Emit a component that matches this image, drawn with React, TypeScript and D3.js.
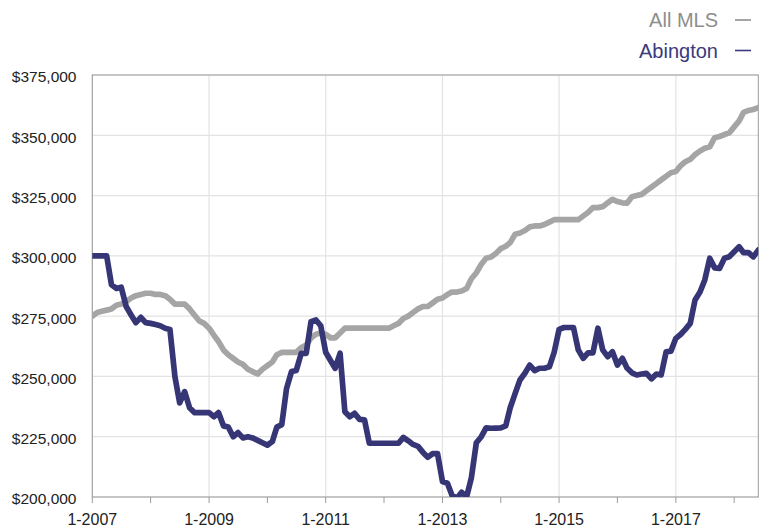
import React from "react";
import * as d3 from "d3";

const START_YEAR = 2007;
const allMls: number[] = [
  275, 276.5, 277, 277.5, 278, 279.5, 280, 281, 282.5, 283.5, 284, 284.5,
  284.5, 284, 284, 283.5, 282, 280, 280, 280, 278, 275.5, 273, 272,
  270, 267, 264.5, 261, 259, 257.5, 256, 255, 253, 252, 251, 253,
  254.5, 256, 259, 260, 260, 260, 260, 262, 263, 266, 267.5, 268,
  267.5, 266, 266, 268, 270, 270, 270, 270, 270, 270, 270, 270,
  270, 270, 271, 272, 274, 275, 276.5, 278, 279, 279, 280.5, 282,
  282.5, 284, 285, 285, 285.4, 286.5, 290.5, 293, 296.5, 299, 299.5, 301,
  303, 304, 305.5, 309, 309.5, 310.5, 312, 312.4, 312.4, 313, 314, 315,
  315, 315, 315, 315, 315, 316.5, 318, 320, 320, 320.4, 322, 323.4,
  322.5, 322, 321.8, 324.5, 325, 325.5, 327, 328.5, 330, 331.5, 333, 334.5,
  335, 337.5, 339, 340, 342, 343.5, 344.6, 345.2, 349, 349.5, 350.3, 351,
  353.5, 356, 359.5, 360.3, 360.7, 361.5,
];
const abington: number[] = [
  300, 300, 300, 300, 288, 286.5, 287, 279, 275.5, 272.3, 274.5, 272.3,
  272, 271.5, 271, 270, 269.5, 250, 239, 243.7, 237, 235, 235, 235,
  235, 233.3, 235, 229.5, 229, 225, 226.7, 224.5, 225, 224.5, 223.5, 222.5,
  221.5, 223, 229, 230, 245, 252, 252.5, 259.6, 259.6, 272.7, 273.4, 271,
  260, 256.5, 253.4, 259.6, 235.4, 233.3, 234.7, 232.2, 232, 222.3, 222.3, 222.3,
  222.3, 222.3, 222.3, 222.3, 224.7, 223.3, 221.8, 221, 218.5, 216.5, 218, 218,
  206.4, 205.7, 200.8, 199.5, 202, 200, 208, 222.5, 225, 228.7, 228.5, 228.6,
  228.7, 229.5, 237, 243, 248.5, 251.3, 254.7, 252.4, 253.4, 253.4, 254, 260,
  269.5, 270.3, 270.3, 270.3, 261, 257.5, 259.8, 259.8, 270, 261, 258.2, 260.2,
  254.7, 257.5, 253.5, 251.5, 250.6, 251, 251.3, 249, 251, 250.6, 260.2, 260.5,
  265.8, 267.5, 269.5, 272, 281.7, 285, 290, 299, 295, 294.8, 299, 299.6,
  301.7, 303.8, 301.3, 301.3, 299.6, 302.4,
];
const yTicks: number[] = [200000, 225000, 250000, 275000, 300000, 325000, 350000, 375000];
const labelYears: number[] = [2007, 2009, 2011, 2013, 2015, 2017];
const legendItems = [
  { name: "All MLS", color: "#a5a5a5", text: "#8e8e8e" },
  { name: "Abington", color: "#363677", text: "#3a3a7c" },
];

const W = 770;
const H = 527;
const L = 92.3;
const R = 758.3;
const T = 75;
const B = 497;

const dateOf = (i: number) => new Date(START_YEAR, i, 1);

export default function App() {
  const x = d3
    .scaleTime()
    .domain([dateOf(0), dateOf(allMls.length - 1)])
    .range([L, R]);
  const y = d3.scaleLinear().domain([200000, 375000]).range([B, T]);
  const line = d3
    .line<number>()
    .x((_, i) => x(dateOf(i)))
    .y((d) => y(d * 1000))
    .curve(d3.curveLinear);
  const fmt = d3.format("$,");
  const yearTicks = d3.range(2007, 2019).map((yr) => new Date(yr, 0, 1));
  const font = "'Liberation Sans', Arial, Helvetica, sans-serif";

  return (
    <svg
      width={W}
      height={H}
      style={{ position: "absolute", left: 0, top: 0, background: "#fff" }}
      fontFamily={font}
    >
      <defs>
        <clipPath id="plotclip">
          <rect x={L} y={T} width={R - L} height={B - T} />
        </clipPath>
      </defs>
      {yTicks.map((t) => (
        <line key={"gy" + t} x1={L} x2={R} y1={y(t)} y2={y(t)} stroke="#e3e3e3" strokeWidth={1.2} />
      ))}
      {labelYears.map((yr) => (
        <line
          key={"gx" + yr}
          x1={x(new Date(yr, 0, 1))}
          x2={x(new Date(yr, 0, 1))}
          y1={T}
          y2={B}
          stroke="#e3e3e3"
          strokeWidth={1.2}
        />
      ))}
      <rect x={L} y={T} width={R - L} height={B - T} fill="none" stroke="#9a9a9a" strokeWidth={1} />
      {yearTicks.map((d, i) => (
        <line key={"tk" + i} x1={x(d)} x2={x(d)} y1={B} y2={B + 6} stroke="#9a9a9a" strokeWidth={1} />
      ))}
      {yTicks.map((t) => (
        <text key={"yl" + t} x={76.5} y={y(t) + 2} dy="0.35em" textAnchor="end" fontSize={15.5} fill="#222">
          {fmt(t)}
        </text>
      ))}
      {labelYears.map((yr) => (
        <text
          key={"xl" + yr}
          x={x(new Date(yr, 0, 1))}
          y={519}
          dy="0.35em"
          textAnchor="middle"
          fontSize={16}
          fill="#222"
        >
          {"1-" + yr}
        </text>
      ))}
      <g clipPath="url(#plotclip)" fill="none" strokeLinejoin="round" strokeLinecap="round">
        <path d={line(allMls) || ""} stroke={legendItems[0].color} strokeWidth={5.7} />
        <path d={line(abington) || ""} stroke={legendItems[1].color} strokeWidth={5.7} />
      </g>
      {legendItems.map((it, i) => (
        <g key={it.name}>
          <text x={718} y={27 + i * 30.5} textAnchor="end" fontSize={20} fill={it.text}>
            {it.name}
          </text>
          <line
            x1={735}
            x2={751}
            y1={20 + i * 30.5}
            y2={20 + i * 30.5}
            stroke={it.text}
            strokeWidth={1.6}
          />
        </g>
      ))}
    </svg>
  );
}
